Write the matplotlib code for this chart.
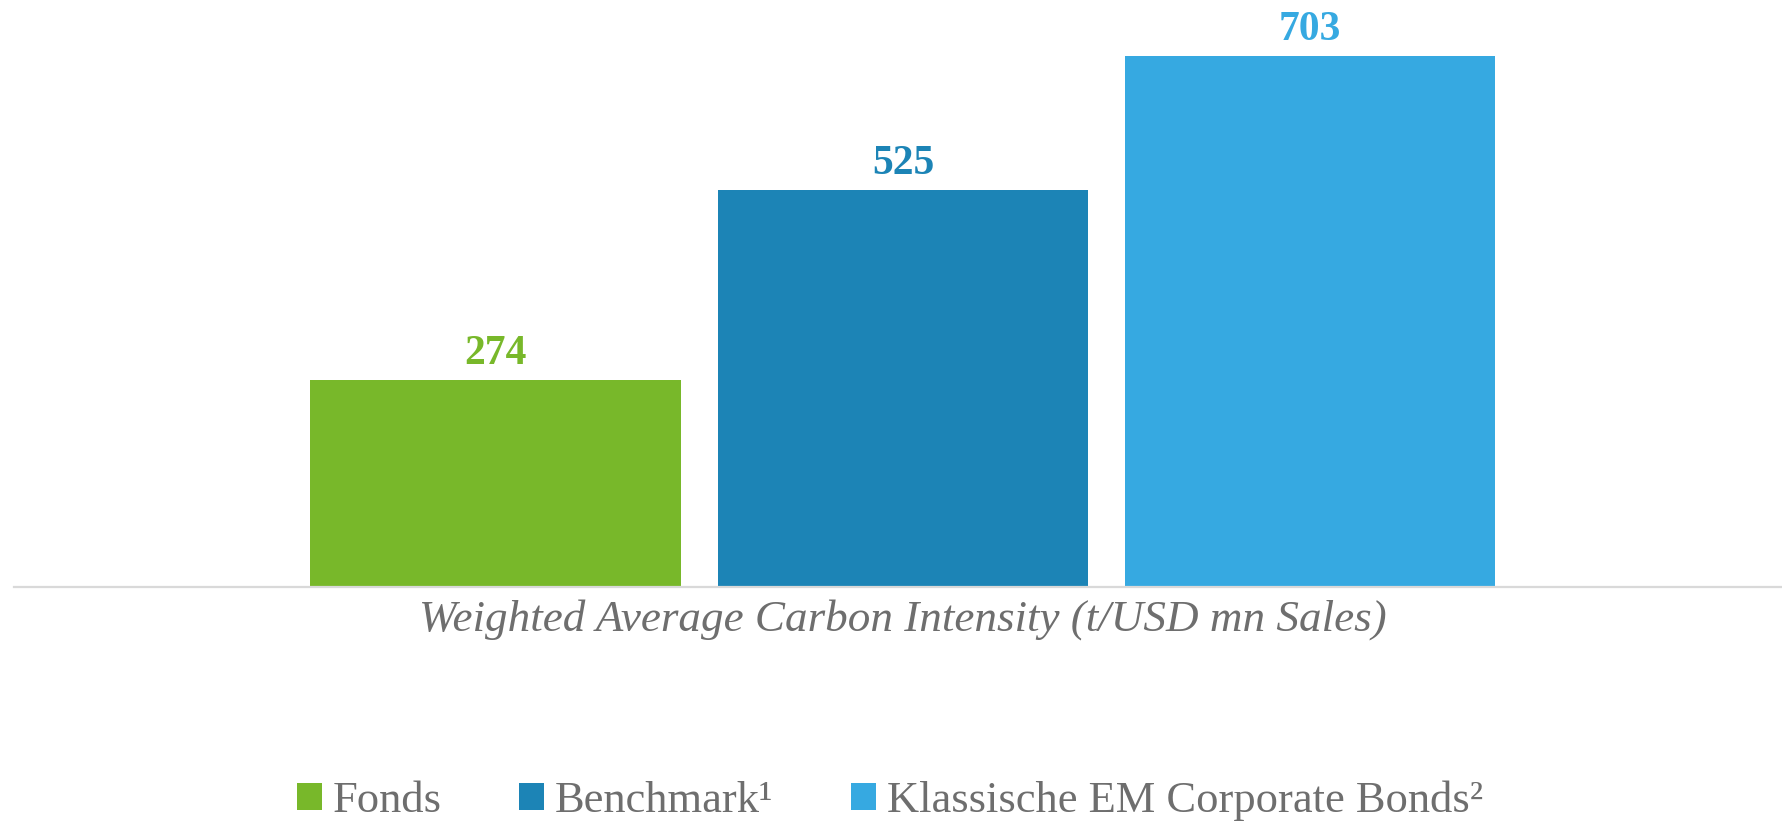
import matplotlib
matplotlib.use("Agg")
import matplotlib.pyplot as plt
from matplotlib.patches import Patch

categories = ["Fonds", "Benchmark\u00b9", "Klassische EM Corporate Bonds\u00b2"]
values = [274, 525, 703]
colors = ["#78b82a", "#1c84b6", "#36a9e1"]
xlabel = "Weighted Average Carbon Intensity (t/USD mn Sales)"

plt.rcParams['font.family'] = ['Liberation Serif', 'DejaVu Serif']

fig = plt.figure(figsize=(17.83, 8.24), dpi=100)
ax = fig.add_axes([14/1783, (824-587)/824, 1 - 14/1783, 587/824])

xs = list(range(len(values)))
bars = ax.bar(xs, values, width=0.91, color=colors, zorder=2)
for x, v, c in zip(xs, values, colors):
    ax.annotate(str(v), (x, v), xytext=(0, 5), textcoords="offset points",
                ha="center", va="bottom", fontsize=30, fontweight="bold", color=c)

ax.set_xlim(-1.183, 3.161)
ax.set_ylim(0, 777)
for s in ["top", "right", "left"]:
    ax.spines[s].set_visible(False)
ax.spines["bottom"].set_color("#d9d9d9")
ax.spines["bottom"].set_linewidth(1.6)
ax.set_yticks([])
ax.set_xticks([])

fig.text(903/1783, 1 - 620/824, xlabel, ha="center", va="center",
         fontsize=32.5, style="italic", color="#6e6e6e")

handles = [Patch(facecolor=c, edgecolor="none") for c in colors]
fig.legend(handles, categories, loc="center", bbox_to_anchor=(890/1783, 1 - 801/824),
           ncol=3, frameon=False, fontsize=32, labelcolor="#6e6e6e",
           handlelength=0.55, handleheight=0.55, handletextpad=0.25, columnspacing=1.75)

fig.savefig("out.png", dpi=100, facecolor="white")
